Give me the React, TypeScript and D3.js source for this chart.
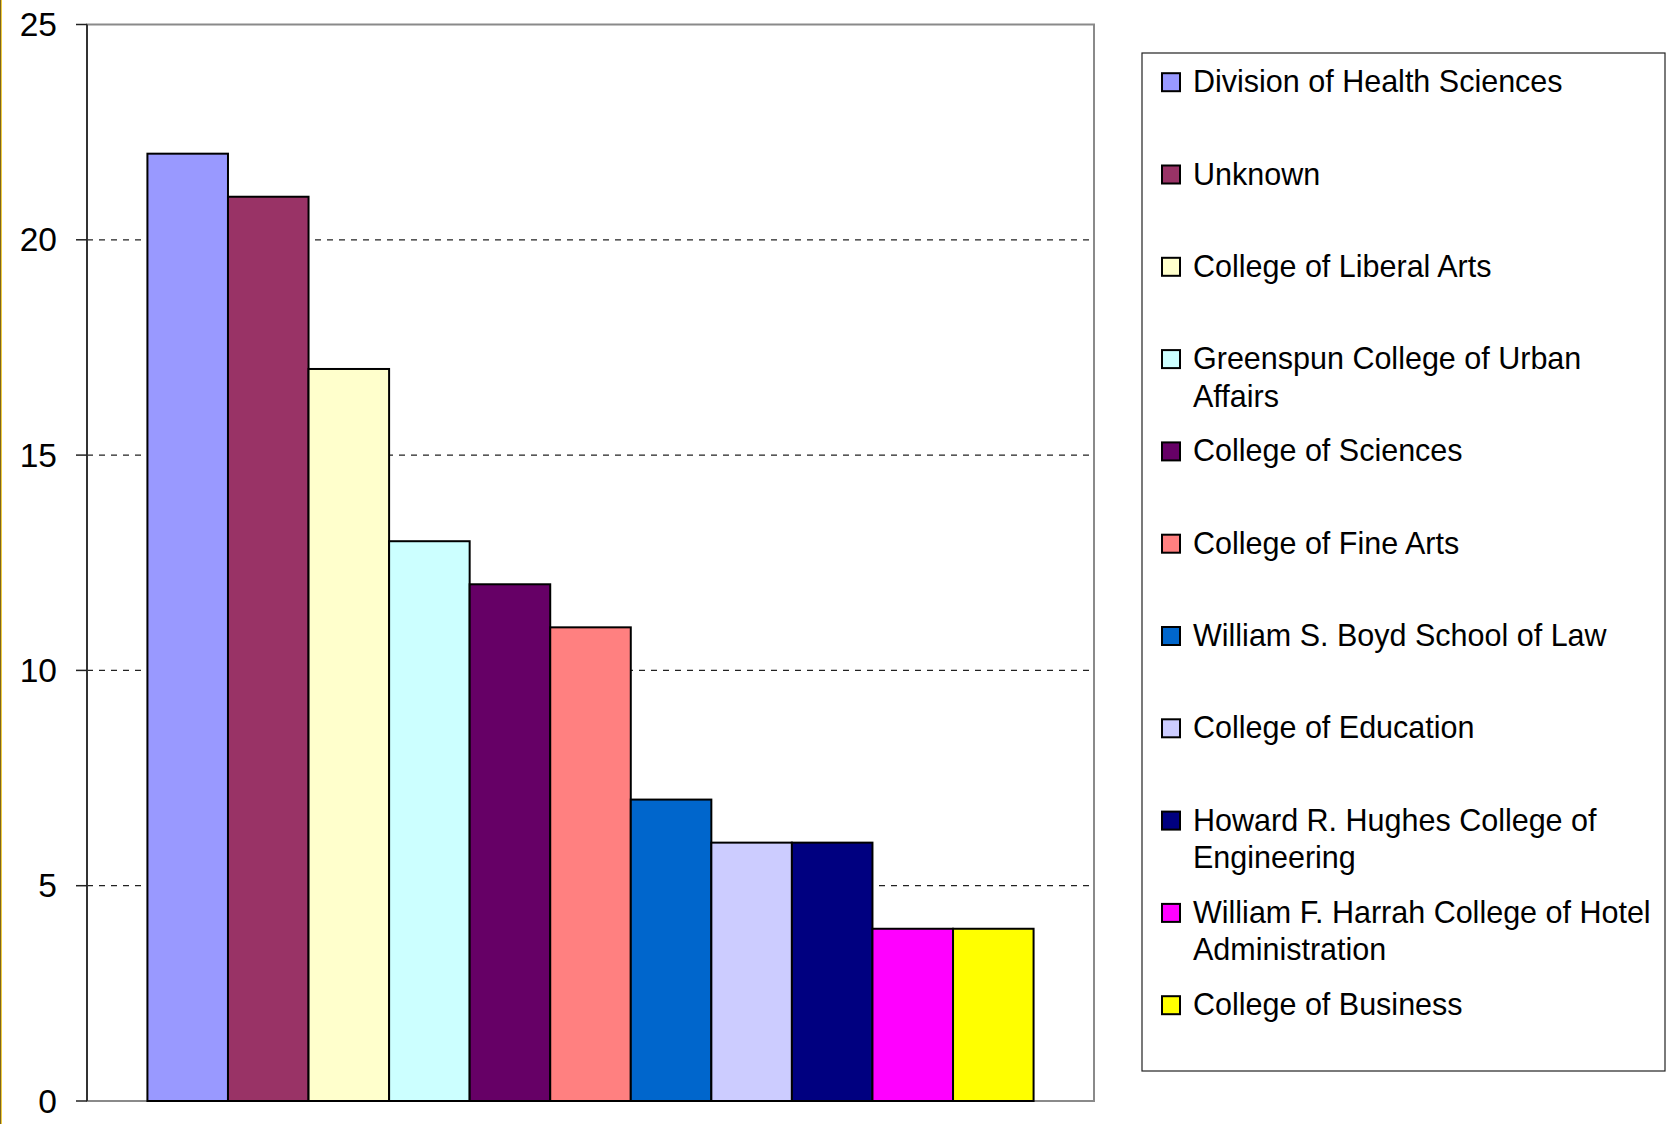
import { useMemo } from 'react';
import * as d3 from 'd3';

const colleges = [
  'Division of Health Sciences',
  'Unknown',
  'College of Liberal Arts',
  'Greenspun College of Urban Affairs',
  'College of Sciences',
  'College of Fine Arts',
  'William S. Boyd School of Law',
  'College of Education',
  'Howard R. Hughes College of Engineering',
  'William F. Harrah College of Hotel Administration',
  'College of Business',
];

const counts = [22, 21, 17, 13, 12, 11, 7, 6, 6, 4, 4];

const colors = [
  '#9999FF',
  '#993366',
  '#FFFFCC',
  '#CCFFFF',
  '#660066',
  '#FF8080',
  '#0066CC',
  '#CCCCFF',
  '#000080',
  '#FF00FF',
  '#FFFF00',
];

const yTicks = [0, 5, 10, 15, 20, 25];

const W = 1680;
const H = 1124;
const plot = { left: 87, top: 24.5, right: 1094, bottom: 1101 };
const legend = { left: 1142, top: 53, right: 1665, bottom: 1071 };
const FONT = "'Liberation Sans', Arial, Helvetica, sans-serif";
const LEGEND_FONT_SIZE = 30.5;

// split a label into lines that fit the legend width
function wrapLabel(text: string, maxWidth: number): string[] {
  const ctx = document.createElement('canvas').getContext('2d');
  if (!ctx) return [text];
  ctx.font = `${LEGEND_FONT_SIZE}px ${FONT}`;
  const words = text.split(' ');
  const lines: string[] = [];
  let cur = '';
  for (const w of words) {
    const next = cur ? `${cur} ${w}` : w;
    if (cur && ctx.measureText(next).width > maxWidth) {
      lines.push(cur);
      cur = w;
    } else {
      cur = next;
    }
  }
  if (cur) lines.push(cur);
  return lines;
}

export default function App() {
  const x = useMemo(
    () =>
      d3
        .scaleBand<string>()
        .domain(colleges)
        .range([plot.left, plot.right])
        .paddingInner(0)
        .paddingOuter(0.75),
    []
  );

  const y = useMemo(
    () => d3.scaleLinear().domain([0, 25]).range([plot.bottom, plot.top]),
    []
  );

  const legendLines = useMemo(() => colleges.map((c) => wrapLabel(c, 463)), []);

  const itemStart = 81.2;
  const itemStep = 92.3;
  const lineStep = 37.5;
  const swatchX = 1162;
  const textX = 1193;

  return (
    <svg
      width={W}
      height={H}
      style={{ position: 'absolute', left: 0, top: 0, display: 'block', background: '#fff' }}
      fontFamily={FONT}
    >
      {/* outer frame edge */}
      <line x1={0.5} y1={0} x2={0.5} y2={H} stroke="#7a6420" strokeWidth={1} />
      <line x1={1.5} y1={0} x2={1.5} y2={H} stroke="#f0cc40" strokeWidth={1} />

      {/* gridlines */}
      <g>
        {yTicks
          .filter((t) => t > 0 && t < 25)
          .map((t) => (
            <line
              key={`grid-${t}`}
              x1={plot.left}
              x2={plot.right}
              y1={y(t)}
              y2={y(t)}
              stroke="#222"
              strokeWidth={1.3}
              strokeDasharray="6,6"
            />
          ))}
      </g>

      {/* plot area border */}
      <rect
        x={plot.left}
        y={plot.top}
        width={plot.right - plot.left}
        height={plot.bottom - plot.top}
        fill="none"
        stroke="#8a8a8a"
        strokeWidth={2}
      />

      {/* bars */}
      <g>
        {colleges.map((c, i) => (
          <rect
            key={c}
            x={x(c)}
            y={y(counts[i])}
            width={x.bandwidth()}
            height={y(0) - y(counts[i])}
            fill={colors[i]}
            stroke="#000"
            strokeWidth={2}
          />
        ))}
      </g>

      {/* y axis */}
      <line x1={plot.left} x2={plot.left} y1={plot.top} y2={plot.bottom} stroke="#333" strokeWidth={2} />
      <g>
        {yTicks.map((t) => (
          <g key={`tick-${t}`}>
            <line x1={76} x2={plot.left} y1={y(t)} y2={y(t)} stroke="#222" strokeWidth={1.5} />
            <text
              x={57}
              y={y(t)}
              textAnchor="end"
              dominantBaseline="central"
              fontSize={33.5}
              fill="#000"
            >
              {t}
            </text>
          </g>
        ))}
      </g>

      {/* legend */}
      <rect
        x={legend.left}
        y={legend.top}
        width={legend.right - legend.left}
        height={legend.bottom - legend.top}
        fill="#fff"
        stroke="#222"
        strokeWidth={1.2}
      />
      {colleges.map((c, i) => {
        const cy = itemStart + i * itemStep;
        return (
          <g key={`legend-${c}`}>
            <rect
              x={swatchX}
              y={cy - 8}
              width={18}
              height={18}
              fill={colors[i]}
              stroke="#000"
              strokeWidth={2}
            />
            <text x={textX} y={cy} fontSize={LEGEND_FONT_SIZE} fill="#000" dominantBaseline="central">
              {legendLines[i].map((line, j) => (
                <tspan key={j} x={textX} y={cy + j * lineStep}>
                  {line}
                </tspan>
              ))}
            </text>
          </g>
        );
      })}
    </svg>
  );
}
